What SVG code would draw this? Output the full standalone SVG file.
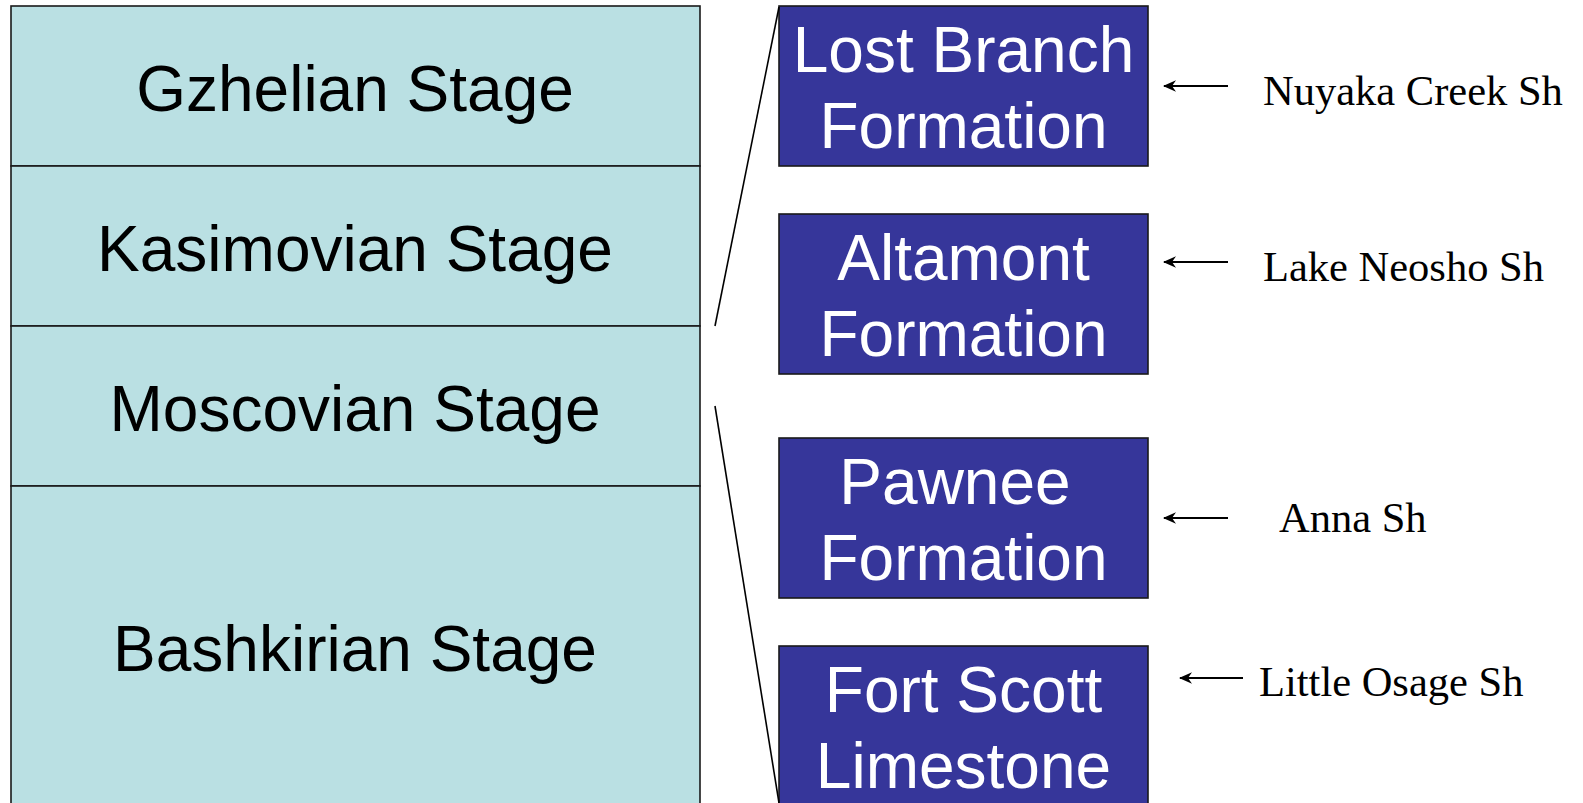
<svg xmlns="http://www.w3.org/2000/svg" width="1583" height="803" viewBox="0 0 1583 803">
  <style>
    .stage rect { fill: #bae0e3; stroke: #1a1a1a; stroke-width: 1.6; }
    .stage text { font-family: "Liberation Sans", Arial, sans-serif; font-size: 64px; fill: #000; text-anchor: middle; }
    .fm rect { fill: #36369a; stroke: #1a1a1a; stroke-width: 1.6; }
    .fm text { font-family: "Liberation Sans", Arial, sans-serif; font-size: 64px; fill: #fff; text-anchor: middle; }
    .sh text { font-family: "Liberation Serif", "Times New Roman", serif; font-size: 42.5px; fill: #000; }
    .conn line { stroke: #000; stroke-width: 1.6; fill: none; }
    .conn .arr { stroke-width: 2; marker-start: url(#head); }
  </style>
  <defs>
    <marker id="head" viewBox="0 0 14 13" refX="1" refY="6.5" markerWidth="14" markerHeight="13" markerUnits="userSpaceOnUse" orient="auto">
      <path d="M0,6.5 L13,0.8 L9,6.5 L13,12.2 Z" fill="#000"/>
    </marker>
  </defs>

  <rect x="0" y="0" width="1583" height="803" fill="#fff"/>

  <!-- stage column -->
  <g id="gzhelian" class="stage">
    <rect x="11" y="6" width="689" height="160"/>
    <text x="355" y="111">Gzhelian Stage</text>
  </g>
  <g id="kasimovian" class="stage">
    <rect x="11" y="166" width="689" height="160"/>
    <text x="355" y="271">Kasimovian Stage</text>
  </g>
  <g id="moscovian" class="stage">
    <rect x="11" y="326" width="689" height="160"/>
    <text x="355" y="431">Moscovian Stage</text>
  </g>
  <g id="bashkirian" class="stage">
    <rect x="11" y="486" width="689" height="330"/>
    <text x="355" y="671">Bashkirian Stage</text>
  </g>

  <!-- formations -->
  <g id="lost-branch" class="fm">
    <rect x="779" y="6" width="369" height="160"/>
    <text x="963.5" y="72">Lost Branch</text>
    <text x="963.5" y="148">Formation</text>
  </g>
  <g id="altamont" class="fm">
    <rect x="779" y="214" width="369" height="160"/>
    <text x="963.5" y="280">Altamont</text>
    <text x="963.5" y="356">Formation</text>
  </g>
  <g id="pawnee" class="fm">
    <rect x="779" y="438" width="369" height="160"/>
    <text x="955" y="504">Pawnee</text>
    <text x="963.5" y="580">Formation</text>
  </g>
  <g id="fort-scott" class="fm">
    <rect x="779" y="646" width="369" height="170"/>
    <text x="963.5" y="712">Fort Scott</text>
    <text x="963.5" y="788">Limestone</text>
  </g>

  <!-- shale labels -->
  <g id="nuyaka" class="sh"><text x="1263" y="105">Nuyaka Creek Sh</text></g>
  <g id="lake-neosho" class="sh"><text x="1263" y="281">Lake Neosho Sh</text></g>
  <g id="anna" class="sh"><text x="1279" y="532">Anna Sh</text></g>
  <g id="little-osage" class="sh"><text x="1259" y="696">Little Osage Sh</text></g>

  <!-- connectors -->
  <g id="connectors" class="conn">
    <line x1="779" y1="7" x2="715" y2="326"/>
    <line x1="715" y1="406" x2="779" y2="803"/>
    <line class="arr" x1="1164" y1="86" x2="1228" y2="86"/>
    <line class="arr" x1="1164" y1="262" x2="1228" y2="262"/>
    <line class="arr" x1="1164" y1="518" x2="1228" y2="518"/>
    <line class="arr" x1="1180" y1="678" x2="1243" y2="678"/>
  </g>
</svg>
